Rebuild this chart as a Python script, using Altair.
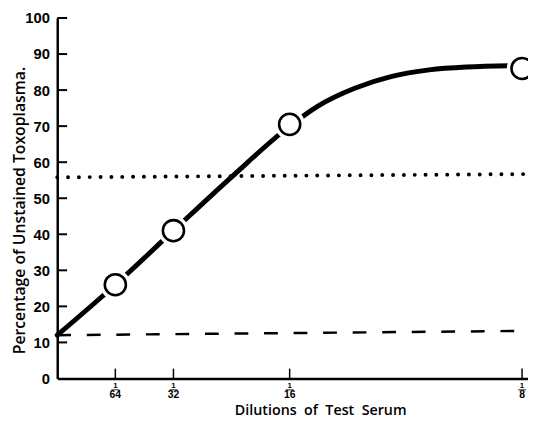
import altair as alt
import pandas as pd

# ---- data ----
dilution_denoms = [64, 32, 16, 8]
point_pct = [26, 41, 70.5, 86]

curve_x = [0, 1/64, 1/32, 0.047, 1/16, 0.07, 0.08, 0.09, 0.1, 0.11, 0.125]
curve_y = [12, 26, 41, 56, 70, 75.5, 80.5, 83.8, 85.6, 86.4, 86.8]

dotted_x = [0, 0.1266]
dotted_y = [55.8, 56.7]
dashed_x = [0, 0.1266]
dashed_y = [12.0, 13.2]

y_ticks = [10, 20, 30, 40, 50, 60, 70, 80, 90, 100]
y_labels = [0, 10, 20, 30, 40, 50, 60, 70, 80, 90, 100]

x_title = "Dilutions\u00a0\u00a0of\u00a0\u00a0Test\u00a0\u00a0Serum"
y_title = "Percentage of Unstained Toxoplasma."

W, H = 478, 366
XMAX = 0.1266
FONT = "Liberation Sans"
TFONT = "Open Sans"

pts = pd.DataFrame({"x": [1 / d for d in dilution_denoms], "y": point_pct,
                    "den": [str(d) for d in dilution_denoms], "num": ["1"] * 4})
curve = pd.DataFrame({"x": curve_x, "y": curve_y})
dotted = pd.DataFrame({"x": dotted_x, "y": dotted_y})
dashed = pd.DataFrame({"x": dashed_x, "y": dashed_y})
yt = pd.DataFrame({"y": y_ticks})

xs = alt.Scale(domain=[0, XMAX], nice=False, zero=True)
ys = alt.Scale(domain=[0, 100], nice=False)

x_axis = alt.Axis(labels=False, ticks=False, grid=False, domain=True,
                  domainColor="black", domainWidth=2.5,
                  title=x_title, titleFont=TFONT, titleFontSize=14.5,
                  titleFontWeight=600, titleColor="black",
                  titleX=267, titleY=36.5, titleBaseline="alphabetic", titleAlign="center")
y_axis = alt.Axis(values=y_labels, tickCount=11, ticks=False, grid=False, domain=True,
                  domainColor="black", domainWidth=2.5, labelOverlap=False,
                  labelFont=FONT, labelFontSize=15, labelFontWeight="bold",
                  labelColor="black", labelPadding=8,
                  title=y_title, titleFont=TFONT,
                  titleFontSize=16, titleFontWeight=600, titleColor="black",
                  titleX=-33, titleY=195, titleAngle=270, titleBaseline="alphabetic",
                  titleAlign="center")

bx = alt.X("x:Q", scale=xs, axis=x_axis)
by = alt.Y("y:Q", scale=ys, axis=y_axis)

dots = alt.Chart(dotted).mark_line(color="black", strokeWidth=4, strokeDash=[0, 11],
                                   strokeCap="round").encode(x=bx, y=by)
dash = alt.Chart(dashed).mark_line(color="black", strokeWidth=2.5,
                                   strokeDash=[14, 16]).encode(x=bx, y=by)
line = alt.Chart(curve).mark_line(color="black", strokeWidth=5, interpolate="monotone",
                                  strokeCap="round").encode(x=bx, y=by)
halo = alt.Chart(pts).mark_point(shape="circle", filled=True, color="white",
                                 size=950, opacity=1).encode(x=bx, y=by)
circ = alt.Chart(pts).mark_point(shape="circle", filled=False, fill="white",
                                 stroke="black", strokeWidth=2.6, size=460,
                                 opacity=1).encode(x=bx, y=by)

yticks = alt.Chart(yt).mark_rule(color="black", strokeWidth=2).encode(
    y=by, x=alt.value(0), x2=alt.value(10))
xticks = alt.Chart(pts).mark_rule(color="black", strokeWidth=1.5).encode(
    x=bx, y=alt.value(H), y2=alt.value(H - 10))

num = alt.Chart(pts).mark_text(font=FONT, fontSize=8, fontWeight="bold",
                               baseline="middle", color="black").encode(
    x=bx, y=alt.value(H + 8), text="num:N")
bar = alt.Chart(pts).mark_tick(orient="horizontal", size=8, thickness=1.2,
                               color="black").encode(x=bx, y=alt.value(H + 11.5))
den = alt.Chart(pts).mark_text(font=FONT, fontSize=10.5, fontWeight="bold",
                               baseline="middle", color="black").encode(
    x=bx, y=alt.value(H + 17), text="den:N")

chart = alt.layer(dots, dash, line, halo, circ, yticks, xticks, num, bar, den).properties(
    width=W, height=H,
    autosize=alt.AutoSizeParams(type="none"),
    padding={"left": 50, "top": 7, "right": 0, "bottom": 38},
    background="white",
).configure_view(stroke=None)

chart.save("out.html", embed_options={"renderer": "svg", "actions": False})
